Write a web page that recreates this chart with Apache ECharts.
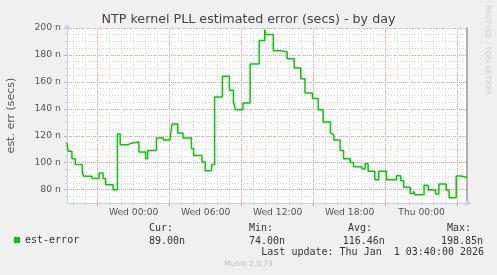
<!DOCTYPE html>
<html><head><meta charset="utf-8">
<script src="https://cdn.jsdelivr.net/npm/echarts@6/dist/echarts.min.js"></script>
<style>html,body{margin:0;padding:0;background:#f0f0f0}#c{width:497px;height:275px}</style>
</head><body><div id="c"></div>
<script>
const chartTitle = 'NTP kernel PLL estimated error (secs) - by day';
const yAxisName = 'est. err (secs)';
const seriesName = 'est-error';
// hours relative to Wed 00:00, value holds from this time until the next
const hours = [-5.55,-5.45,-5.14,-4.86,-4.28,-4.14,-3.47,-2.88,-2.54,-2.33,-1.71,-1.35,-1.12,-0.48,-0.21,0.44,1.0,1.17,1.9,2.48,3.04,3.2,3.68,4.12,4.82,5.0,5.7,5.97,6.5,6.75,7.4,7.98,8.32,8.48,9.11,9.71,10.46,10.93,11.0,11.64,12.27,12.79,13.38,13.93,14.28,14.9,15.38,15.79,16.4,16.5,16.68,17.21,17.5,18.05,18.33,19.03,19.29,19.54,20.1,20.43,21.07,21.9,22.26,22.51,23.05,23.33,23.45,24.2,24.55,25.16,25.44,26.05,26.29,26.88,27.3,27.78];
const errValues = [114.7,108.5,103.0,98.6,92.4,89.9,88.2,92.4,88.2,83.7,80.0,121.3,113.4,114.4,115.4,108.0,103.0,109.0,118.4,116.9,118.9,128.8,122.1,118.4,110.5,105.3,100.6,94.1,98.6,148.8,164.1,153.7,145.1,139.4,144.3,173.3,190.8,198.85,195.1,183.2,182.2,177.2,170.3,162.4,151.8,147.6,139.4,130.2,122.1,120.8,116.9,109.0,103.0,100.1,97.1,95.4,99.3,93.6,87.4,93.6,87.4,90.4,86.7,81.8,77.1,78.8,76.3,83.2,79.8,76.8,84.2,79.6,74.0,90.2,89.0,89.0];
const xLabelHours = [0, 6, 12, 18, 24];
const xLabelTexts = ['Wed 00:00', 'Wed 06:00', 'Wed 12:00', 'Wed 18:00', 'Thu 00:00'];
const xMajorHours = [-3, 3, 9, 15, 21, 27];
const xMinorHours = [-5,-4,-3,-2,-1,0,1,2,3,4,5,6,7,8,9,10,11,12,13,14,15,16,17,18,19,20,21,22,23,24,25,26,27];
const yLabelValues = [80, 100, 120, 140, 160, 180, 200];
const yMinorValues = [75,80,85,90,95,100,105,110,115,120,125,130,135,140,145,150,155,160,165,170,175,180,185,190,195,200];
const statHeads = ['Cur:', 'Min:', 'Avg:', 'Max:'];
const statValues = ['89.00n', '74.00n', '116.46n', '198.85n'];
const lastUpdate = 'Last update: Thu Jan  1 03:40:00 2026';
const footer = 'Munin 2.0.73';
const sideText = 'RRDTOOL / TOBI OETIKER';
const xRange = [-5.55, 27.78];
const yRange = [70.1, 200];

const AXIS_C = '#c8ccf2', MINOR_C = '#d4d4d4', MAJOR_C = '#e6a3a3', TXT = '#555';
const chart = echarts.init(document.getElementById('c'), null, {renderer: 'canvas'});
const headX = [149, 249, 348, 447];
const valX = [149, 249, 342.7, 441];
const graphics = [];
statHeads.forEach((t, i) => graphics.push({type: 'text', x: headX[i], y: 228.3, style: {text: t, font: '10px "DejaVu Sans Mono"', fill: '#333', verticalAlign: 'middle'}}));
statValues.forEach((t, i) => graphics.push({type: 'text', x: valX[i], y: 241, style: {text: t, font: '10px "DejaVu Sans Mono"', fill: '#333', verticalAlign: 'middle'}}));
graphics.push({type: 'text', x: 261.3, y: 252.7, style: {text: lastUpdate, font: '10px "DejaVu Sans Mono"', fill: '#333', verticalAlign: 'middle'}});
graphics.push({type: 'text', x: 248.5, y: 264.5, style: {text: footer, font: '7.4px "DejaVu Sans"', fill: '#bdbdbd', align: 'center', verticalAlign: 'middle'}});
graphics.push({type: 'text', x: 488, y: 5, rotation: -Math.PI / 2, style: {text: sideText, font: '7px "DejaVu Sans"', fill: '#cfcfcf', align: 'left', verticalAlign: 'middle'}});

const option = {
  animation: false,
  backgroundColor: '#f0f0f0',
  title: {text: chartTitle, left: 'center', top: 13, padding: 0,
    textStyle: {fontFamily: 'DejaVu Sans', fontSize: 12.7, fontWeight: 'normal', color: '#444'}},
  legend: {data: [seriesName], left: 14, top: 235, padding: 0, icon: 'rect', itemWidth: 6, itemHeight: 6,
    textStyle: {fontFamily: 'DejaVu Sans Mono', fontSize: 10, color: '#333'}},
  grid: {left: 67, right: 30, top: 28, bottom: 72, show: true, backgroundColor: '#fff', borderWidth: 0, outerBoundsMode: 'none'},
  xAxis: [
    {type: 'value', min: xRange[0], max: xRange[1], position: 'bottom',
      axisLine: {show: true, onZero: false, lineStyle: {color: AXIS_C, width: 1}, symbol: ['none', 'arrow'], symbolSize: [6, 6], symbolOffset: [0, 4]},
      axisTick: {show: true, customValues: xMinorHours, length: 2, lineStyle: {color: '#ccc'}},
      splitLine: {show: true, lineStyle: {color: MINOR_C, type: [1, 2], width: 1}},
      axisLabel: {show: false}},
    {type: 'value', min: xRange[0], max: xRange[1], position: 'bottom',
      axisLine: {show: false, onZero: false},
      axisTick: {show: true, customValues: xMajorHours, length: 3, lineStyle: {color: MAJOR_C}},
      splitLine: {show: true, lineStyle: {color: MAJOR_C, type: [1, 1], width: 1}},
      axisLabel: {show: true, customValues: xLabelHours, margin: 5, color: TXT, fontFamily: 'DejaVu Sans', fontSize: 9.2,
        formatter: v => xLabelTexts[xLabelHours.indexOf(v)]}}
  ],
  yAxis: [
    {type: 'value', min: yRange[0], max: yRange[1], position: 'left',
      name: yAxisName, nameLocation: 'middle', nameGap: 50,
      nameTextStyle: {fontFamily: 'DejaVu Sans', fontSize: 11, color: TXT},
      axisLine: {show: true, onZero: false, lineStyle: {color: AXIS_C, width: 1}, symbol: ['none', 'arrow'], symbolSize: [6, 6], symbolOffset: [0, 4]},
      axisTick: {show: true, customValues: yMinorValues, length: 2, lineStyle: {color: '#ccc'}},
      splitLine: {show: true, lineStyle: {color: MINOR_C, type: [1, 2], width: 1}},
      axisLabel: {show: false}},
    {type: 'value', min: yRange[0], max: yRange[1], position: 'left',
      axisLine: {show: false, onZero: false},
      axisTick: {show: true, customValues: yLabelValues, length: 3, lineStyle: {color: MAJOR_C}},
      splitLine: {show: true, lineStyle: {color: MAJOR_C, type: [1, 1], width: 1}},
      axisLabel: {show: true, customValues: yLabelValues, margin: 6, color: TXT, fontFamily: 'DejaVu Sans', fontSize: 9.3,
        formatter: v => v + ' n'}},
    {type: 'value', min: yRange[0], max: yRange[1], position: 'right',
      axisLine: {show: true, onZero: false, lineStyle: {color: '#9a9a9a', width: 1.5}},
      axisTick: {show: false}, splitLine: {show: false}, axisLabel: {show: false}}
  ],
  series: [{
    name: seriesName, type: 'line', step: 'end', xAxisIndex: 0, yAxisIndex: 0,
    showSymbol: false, symbol: 'none', color: '#00cc00',
    lineStyle: {color: '#00cc00', width: 1.5},
    data: hours.map((h, i) => [h, errValues[i]])
  }],
  graphic: graphics
};
chart.setOption(option);
</script></body></html>
